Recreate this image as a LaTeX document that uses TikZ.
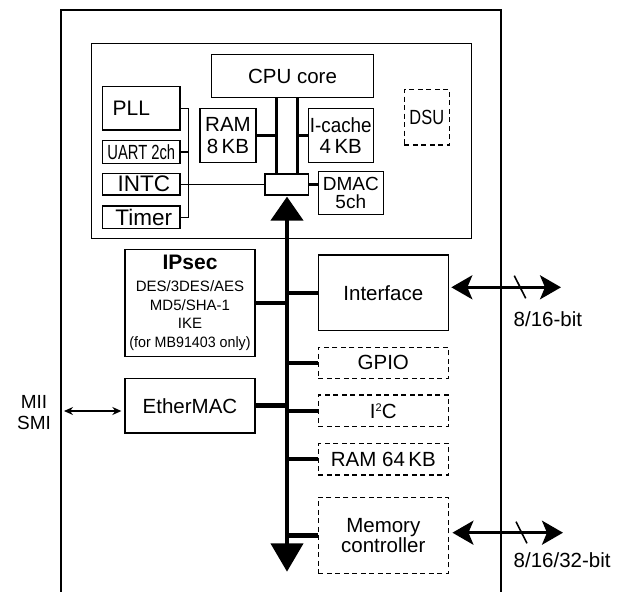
\documentclass[tikz,border=0pt]{standalone}
\usepackage{fontspec}
\setmainfont{Liberation Sans}
\usetikzlibrary{arrows.meta,calc}
\newcommand{\fsz}[2]{\fontsize{#1}{#2}\selectfont}
\begin{document}
\begin{tikzpicture}[x=1pt,y=-1pt,
  blk/.style={draw, line width=1.3pt, inner sep=0pt, align=center, font=\fsz{20.5}{21.7}},
  dblk/.style={blk, dash pattern=on 5pt off 3.5pt},
  thinln/.style={line width=1.3pt},
  stub/.style={line width=4.5pt},
  medln/.style={line width=3pt},
  bigarrow/.style={line width=2.8pt, {Stealth[length=21pt,width=24pt,inset=5pt]}-{Stealth[length=21pt,width=24pt,inset=5pt]}},
  lbl/.style={inner sep=0pt, font=\fsz{20.5}{21.7}}
]
\useasboundingbox (0,0) rectangle (625,592);
% outer chip outline
\draw[line width=2pt] (61,592) -- (61,10) -- (501,10) -- (501,592);
% CPU cluster
\node[draw, line width=1.3pt, inner sep=0pt, minimum width=380pt, minimum height=195pt] (inner) at (281.7,140.8) {};
\node[blk, minimum width=161.6pt, minimum height=43.4pt] (cpu) at (292.5,76) {CPU core};
\node[blk, minimum width=77.3pt, minimum height=43.3pt, font=\fsz{21}{22}] (pll) at (141.3,108.3) {PLL\hspace*{20pt}};
\node[blk, minimum width=77.3pt, minimum height=22.6pt] (uart) at (141.3,152) {\scalebox{0.72}[1]{UART 2ch}};
\node[blk, minimum width=77.3pt, minimum height=21.7pt, font=\fsz{22.5}{23}] (intc) at (141.3,184.2) {\hspace*{5pt}INTC};
\node[blk, minimum width=77.3pt, minimum height=22.3pt, font=\fsz{22.5}{23}] (timer) at (141.3,217.2) {\hspace*{5pt}Timer};
\node[blk, minimum width=56pt, minimum height=54.4pt] (ram8) at (228,135.5) {RAM\\8\,KB};
\node[blk, minimum width=65pt, minimum height=54.4pt] (icache) at (340.8,135.5) {\scalebox{0.92}[1]{I-cache}\\4\,KB};
\node[blk, fill=white, minimum width=43.3pt, minimum height=21pt] (junc) at (286.7,184.5) {};
\node[blk, minimum width=65pt, minimum height=42.6pt, font=\fsz{19}{18.5}] (dmac) at (350.8,193) {DMAC\\5ch};
\node[dblk, minimum width=45pt, minimum height=55.7pt] (dsu) at (426.8,117.2) {\scalebox{0.8}[1]{DSU}};
% peripherals
\node[blk, minimum width=130pt, minimum height=107.4pt, font=\fsz{15}{18.5}] (ipsec) at (190,303)
  {{\bfseries\fsz{21}{22}IPsec}\\[3.5pt]DES/3DES/AES\\MD5/SHA-1\\IKE\\\scalebox{0.95}[1]{(for MB91403 only)}};
\node[blk, minimum width=130pt, minimum height=75.7pt] (iface) at (383.3,292.8) {Interface};
\node[dblk, minimum width=130pt, minimum height=31pt] (gpio) at (383.3,362.8) {GPIO};
\node[blk, minimum width=130pt, minimum height=54.7pt] (ether) at (190,405.7) {EtherMAC};
\node[dblk, minimum width=130pt, minimum height=31.7pt] (i2c) at (383.3,410.8) {I\raisebox{7pt}{\fsz{11}{11}2}C};
\node[dblk, minimum width=130pt, minimum height=31.7pt] (ram64) at (383.3,459.2) {RAM 64\,KB};
\node[dblk, minimum width=130pt, minimum height=76pt, font=\fsz{20.5}{20}] (memc) at (383.3,535.3) {Memory\\controller};
% internal CPU connections
\coordinate (brk) at (188.3,0);
\draw[thinln] (pll.east) -- (pll.east -| brk) -- (timer.east -| brk) -- (timer.east);
\draw[thinln] (uart.east) -- (uart.east -| brk);
\draw[thinln] (intc.east) -- (intc.east -| junc.west);
\coordinate (bl) at ([xshift=-10pt]junc.north);
\coordinate (br) at ([xshift=11pt]junc.north);
\draw[medln] (bl) -- (bl |- cpu.south);
\draw[medln] (br) -- (br |- cpu.south);
\draw[line width=2.5pt] (ram8.east) -- (ram8.east -| bl);
\draw[line width=2.5pt] (icache.west) -- (icache.west -| br);
\draw[line width=2.5pt] (junc.east) -- (junc.east -| dmac.west);
% main bus
\coordinate (busend) at (287,571.7);
\draw[line width=4.5pt, {Triangle[length=24pt,width=32pt]}-{Triangle[length=28.4pt,width=32pt]}] ([yshift=-1pt]junc.south -| busend) -- (busend);
\draw[stub] (ipsec.east) -- (ipsec.east -| busend);
\draw[stub] (ether.east) -- (ether.east -| busend);
\draw[stub] (iface.west -| busend) -- (iface.west);
\draw[stub] (gpio.west -| busend) -- (gpio.west);
\draw[stub] (i2c.west -| busend) -- (i2c.west);
\draw[stub] (ram64.west -| busend) -- (ram64.west);
\draw[stub] (memc.west -| busend) -- (memc.west);
% external interfaces
\coordinate (ifR) at (561,287.3);
\draw[bigarrow] ([xshift=2.4pt]ifR -| iface.east) -- (ifR);
\draw[line width=1.6pt] (514.3,275.7) -- (525.7,298.3);
\node[lbl, anchor=west] (l1) at (513.5,319.3) {8/16-bit};
\coordinate (mcR) at (563,532.7);
\draw[bigarrow] ([xshift=3.5pt]mcR -| memc.east) -- (mcR);
\draw[line width=1.6pt] (516,521.7) -- (527,543.3);
\node[lbl, anchor=west] (l2) at (513.5,560) {8/16/32-bit};
\node[align=center, inner sep=0pt, font=\fsz{19}{21.6}] (mii) at (34,412.5) {MII\\SMI};
\coordinate (miiL) at (64,411);
\draw[thinln, {Stealth[length=9pt,width=8pt]}-{Stealth[length=9pt,width=8pt]}] (miiL) -- ([xshift=-3pt]miiL -| ether.west);
\end{tikzpicture}
\end{document}
